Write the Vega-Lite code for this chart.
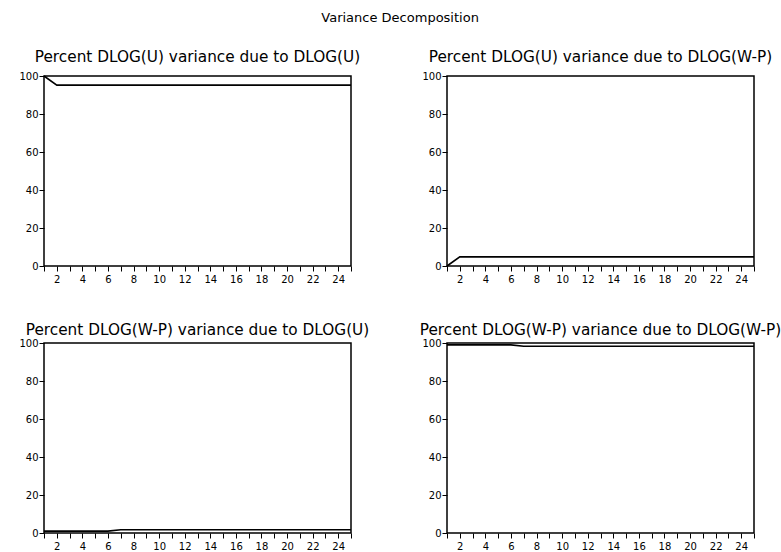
{
 "$schema": "https://vega.github.io/schema/vega-lite/v6.json",
 "padding": {"left": 18, "top": 11, "right": 5, "bottom": 5},
 "background": "white",
 "title": {"text": "Variance Decomposition", "font": "DejaVu Sans", "fontSize": 13, "fontWeight": "normal", "color": "black", "anchor": "middle", "offset": 24},
 "datasets": {
  "vd": [
   {"panel": "A", "h": 1, "v": 100}, {"panel": "A", "h": 2, "v": 95.2}, {"panel": "A", "h": 3, "v": 95.2}, {"panel": "A", "h": 4, "v": 95.2}, {"panel": "A", "h": 5, "v": 95.2}, {"panel": "A", "h": 6, "v": 95.2}, {"panel": "A", "h": 7, "v": 95.2}, {"panel": "A", "h": 8, "v": 95.2}, {"panel": "A", "h": 9, "v": 95.2}, {"panel": "A", "h": 10, "v": 95.2}, {"panel": "A", "h": 11, "v": 95.2}, {"panel": "A", "h": 12, "v": 95.2}, {"panel": "A", "h": 13, "v": 95.2}, {"panel": "A", "h": 14, "v": 95.2}, {"panel": "A", "h": 15, "v": 95.2}, {"panel": "A", "h": 16, "v": 95.2}, {"panel": "A", "h": 17, "v": 95.2}, {"panel": "A", "h": 18, "v": 95.2}, {"panel": "A", "h": 19, "v": 95.2}, {"panel": "A", "h": 20, "v": 95.2}, {"panel": "A", "h": 21, "v": 95.2}, {"panel": "A", "h": 22, "v": 95.2}, {"panel": "A", "h": 23, "v": 95.2}, {"panel": "A", "h": 24, "v": 95.2}, {"panel": "A", "h": 25, "v": 95.2},
   {"panel": "B", "h": 1, "v": 0}, {"panel": "B", "h": 2, "v": 4.8}, {"panel": "B", "h": 3, "v": 4.8}, {"panel": "B", "h": 4, "v": 4.8}, {"panel": "B", "h": 5, "v": 4.8}, {"panel": "B", "h": 6, "v": 4.8}, {"panel": "B", "h": 7, "v": 4.8}, {"panel": "B", "h": 8, "v": 4.8}, {"panel": "B", "h": 9, "v": 4.8}, {"panel": "B", "h": 10, "v": 4.8}, {"panel": "B", "h": 11, "v": 4.8}, {"panel": "B", "h": 12, "v": 4.8}, {"panel": "B", "h": 13, "v": 4.8}, {"panel": "B", "h": 14, "v": 4.8}, {"panel": "B", "h": 15, "v": 4.8}, {"panel": "B", "h": 16, "v": 4.8}, {"panel": "B", "h": 17, "v": 4.8}, {"panel": "B", "h": 18, "v": 4.8}, {"panel": "B", "h": 19, "v": 4.8}, {"panel": "B", "h": 20, "v": 4.8}, {"panel": "B", "h": 21, "v": 4.8}, {"panel": "B", "h": 22, "v": 4.8}, {"panel": "B", "h": 23, "v": 4.8}, {"panel": "B", "h": 24, "v": 4.8}, {"panel": "B", "h": 25, "v": 4.8},
   {"panel": "C", "h": 1, "v": 1.0}, {"panel": "C", "h": 2, "v": 1.0}, {"panel": "C", "h": 3, "v": 1.0}, {"panel": "C", "h": 4, "v": 1.0}, {"panel": "C", "h": 5, "v": 1.0}, {"panel": "C", "h": 6, "v": 1.0}, {"panel": "C", "h": 7, "v": 1.7}, {"panel": "C", "h": 8, "v": 1.7}, {"panel": "C", "h": 9, "v": 1.7}, {"panel": "C", "h": 10, "v": 1.7}, {"panel": "C", "h": 11, "v": 1.7}, {"panel": "C", "h": 12, "v": 1.7}, {"panel": "C", "h": 13, "v": 1.7}, {"panel": "C", "h": 14, "v": 1.7}, {"panel": "C", "h": 15, "v": 1.7}, {"panel": "C", "h": 16, "v": 1.7}, {"panel": "C", "h": 17, "v": 1.7}, {"panel": "C", "h": 18, "v": 1.7}, {"panel": "C", "h": 19, "v": 1.7}, {"panel": "C", "h": 20, "v": 1.7}, {"panel": "C", "h": 21, "v": 1.7}, {"panel": "C", "h": 22, "v": 1.7}, {"panel": "C", "h": 23, "v": 1.7}, {"panel": "C", "h": 24, "v": 1.7}, {"panel": "C", "h": 25, "v": 1.7},
   {"panel": "D", "h": 1, "v": 99.0}, {"panel": "D", "h": 2, "v": 99.0}, {"panel": "D", "h": 3, "v": 99.0}, {"panel": "D", "h": 4, "v": 99.0}, {"panel": "D", "h": 5, "v": 99.0}, {"panel": "D", "h": 6, "v": 99.0}, {"panel": "D", "h": 7, "v": 98.3}, {"panel": "D", "h": 8, "v": 98.3}, {"panel": "D", "h": 9, "v": 98.3}, {"panel": "D", "h": 10, "v": 98.3}, {"panel": "D", "h": 11, "v": 98.3}, {"panel": "D", "h": 12, "v": 98.3}, {"panel": "D", "h": 13, "v": 98.3}, {"panel": "D", "h": 14, "v": 98.3}, {"panel": "D", "h": 15, "v": 98.3}, {"panel": "D", "h": 16, "v": 98.3}, {"panel": "D", "h": 17, "v": 98.3}, {"panel": "D", "h": 18, "v": 98.3}, {"panel": "D", "h": 19, "v": 98.3}, {"panel": "D", "h": 20, "v": 98.3}, {"panel": "D", "h": 21, "v": 98.3}, {"panel": "D", "h": 22, "v": 98.3}, {"panel": "D", "h": 23, "v": 98.3}, {"panel": "D", "h": 24, "v": 98.3}, {"panel": "D", "h": 25, "v": 98.3}
  ]
 },
 "data": {"name": "vd"},
 "bounds": "flush",
 "spacing": {"row": 77, "column": 96},
 "columns": 2,
 "concat": [
  {
   "width": 307, "height": 190,
   "title": {"text": "Percent DLOG(U) variance due to DLOG(U)", "offset": -6, "baseline": "alphabetic"},
   "transform": [{"filter": "datum.panel == 'A'"}],
   "mark": {"type": "line", "color": "black", "strokeWidth": 1.6},
   "encoding": {
    "x": {"field": "h", "type": "quantitative", "scale": {"domain": [1, 25], "nice": false, "zero": false}, "axis": {"values": [1,2,3,4,5,6,7,8,9,10,11,12,13,14,15,16,17,18,19,20,21,22,23,24,25], "labelExpr": "datum.value % 2 == 0 ? datum.label : ''"}},
    "y": {"field": "v", "type": "quantitative", "scale": {"domain": [0, 100], "nice": false}, "axis": {"values": [0, 20, 40, 60, 80, 100]}}
   }
  },
  {
   "width": 307, "height": 190,
   "title": {"text": "Percent DLOG(U) variance due to DLOG(W-P)", "offset": -6, "baseline": "alphabetic"},
   "transform": [{"filter": "datum.panel == 'B'"}],
   "mark": {"type": "line", "color": "black", "strokeWidth": 1.6},
   "encoding": {
    "x": {"field": "h", "type": "quantitative", "scale": {"domain": [1, 25], "nice": false, "zero": false}, "axis": {"values": [1,2,3,4,5,6,7,8,9,10,11,12,13,14,15,16,17,18,19,20,21,22,23,24,25], "labelExpr": "datum.value % 2 == 0 ? datum.label : ''"}},
    "y": {"field": "v", "type": "quantitative", "scale": {"domain": [0, 100], "nice": false}, "axis": {"values": [0, 20, 40, 60, 80, 100]}}
   }
  },
  {
   "width": 307, "height": 190,
   "title": {"text": "Percent DLOG(W-P) variance due to DLOG(U)", "offset": -12, "baseline": "alphabetic"},
   "transform": [{"filter": "datum.panel == 'C'"}],
   "mark": {"type": "line", "color": "black", "strokeWidth": 1.6},
   "encoding": {
    "x": {"field": "h", "type": "quantitative", "scale": {"domain": [1, 25], "nice": false, "zero": false}, "axis": {"values": [1,2,3,4,5,6,7,8,9,10,11,12,13,14,15,16,17,18,19,20,21,22,23,24,25], "labelExpr": "datum.value % 2 == 0 ? datum.label : ''"}},
    "y": {"field": "v", "type": "quantitative", "scale": {"domain": [0, 100], "nice": false}, "axis": {"values": [0, 20, 40, 60, 80, 100]}}
   }
  },
  {
   "width": 307, "height": 190,
   "title": {"text": "Percent DLOG(W-P) variance due to DLOG(W-P)", "offset": -12, "baseline": "alphabetic"},
   "transform": [{"filter": "datum.panel == 'D'"}],
   "mark": {"type": "line", "color": "black", "strokeWidth": 1.6},
   "encoding": {
    "x": {"field": "h", "type": "quantitative", "scale": {"domain": [1, 25], "nice": false, "zero": false}, "axis": {"values": [1,2,3,4,5,6,7,8,9,10,11,12,13,14,15,16,17,18,19,20,21,22,23,24,25], "labelExpr": "datum.value % 2 == 0 ? datum.label : ''"}},
    "y": {"field": "v", "type": "quantitative", "scale": {"domain": [0, 100], "nice": false}, "axis": {"values": [0, 20, 40, 60, 80, 100]}}
   }
  }
 ],
 "config": {
  "view": {"stroke": "black", "strokeWidth": 1.5},
  "axis": {"domain": false, "grid": false, "ticks": true, "tickColor": "black", "tickSize": 5, "tickWidth": 1, "labelColor": "black", "labelFont": "DejaVu Sans", "labelFontSize": 10, "labelOverlap": false, "labelFlush": false, "title": null},
  "axisX": {"labelPadding": 3},
  "axisY": {"labelPadding": 1},
  "title": {"font": "DejaVu Sans", "fontSize": 15.3, "fontWeight": "normal", "color": "black"}
 }
}
